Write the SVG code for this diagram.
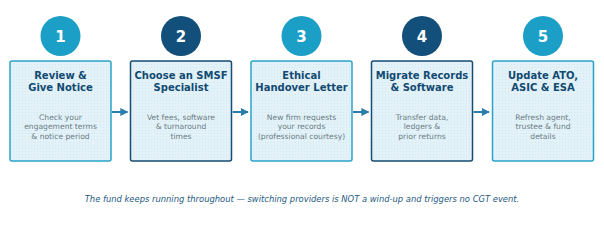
<svg xmlns="http://www.w3.org/2000/svg" width="604" height="225" viewBox="0 0 604 225">
<defs>
<pattern id="dots" width="3" height="3" patternUnits="userSpaceOnUse">
<rect width="3" height="3" fill="#e2f2f8"/>
<rect x="1" y="1" width="1" height="1" fill="#d0e7f0"/>
</pattern>
<marker id="ah" viewBox="0 0 10 10" refX="9" refY="5" markerWidth="4" markerHeight="4" orient="auto" markerUnits="strokeWidth">
<path d="M0,0 L10,5 L0,10 z" fill="#2b7ea8"/>
</marker>
</defs>
<style>
.box{fill:url(#dots);stroke-width:1.5}
.lb{stroke:#2ba3ca}
.db{stroke:#174c73}
.lc{fill:#1c9fc7}
.dc{fill:#124f7a}
.num{font-family:"DejaVu Sans",sans-serif;font-weight:bold;font-size:15px;fill:#fff;text-anchor:middle}
.t{font-family:"DejaVu Sans",sans-serif;font-weight:bold;font-size:10px;fill:#124a72;text-anchor:middle}
.d{font-family:"DejaVu Sans",sans-serif;font-size:7.6px;fill:#6e7d86;text-anchor:middle}
.foot{font-family:"DejaVu Sans",sans-serif;font-style:italic;font-size:8.4px;fill:#265a82;text-anchor:middle}
.con{stroke:#2b7ea8;stroke-width:2;fill:none}
</style>
<rect width="604" height="225" fill="#fff"/>
<g id="step1">
<circle class="lc" cx="60.5" cy="36" r="20"/>
<text class="num" x="60.5" y="41.5">1</text>
<rect class="box lb" x="10" y="61" width="101" height="100" rx="2"/>
<text class="t" x="60.5" y="78.5">Review &amp;</text>
<text class="t" x="60.5" y="90.5">Give Notice</text>
<text class="d" x="60.5" y="119.5">Check your</text>
<text class="d" x="60.5" y="129">engagement terms</text>
<text class="d" x="60.5" y="138.5">&amp; notice period</text>
</g>
<g id="step2">
<circle class="dc" cx="181" cy="36" r="20"/>
<text class="num" x="181" y="41.5">2</text>
<rect class="box db" x="130.5" y="61" width="101" height="100" rx="2"/>
<text class="t" x="181" y="78.5">Choose an SMSF</text>
<text class="t" x="181" y="90.5">Specialist</text>
<text class="d" x="181" y="119.5">Vet fees, software</text>
<text class="d" x="181" y="129">&amp; turnaround</text>
<text class="d" x="181" y="138.5">times</text>
</g>
<g id="step3">
<circle class="lc" cx="301.5" cy="36" r="20"/>
<text class="num" x="301.5" y="41.5">3</text>
<rect class="box lb" x="251" y="61" width="101" height="100" rx="2"/>
<text class="t" x="301.5" y="78.5">Ethical</text>
<text class="t" x="301.5" y="90.5">Handover Letter</text>
<text class="d" x="301.5" y="119.5">New firm requests</text>
<text class="d" x="301.5" y="129">your records</text>
<text class="d" x="301.5" y="138.5">(professional courtesy)</text>
</g>
<g id="step4">
<circle class="dc" cx="422" cy="36" r="20"/>
<text class="num" x="422" y="41.5">4</text>
<rect class="box db" x="371.5" y="61" width="101" height="100" rx="2"/>
<text class="t" x="422" y="78.5">Migrate Records</text>
<text class="t" x="422" y="90.5">&amp; Software</text>
<text class="d" x="422" y="119.5">Transfer data,</text>
<text class="d" x="422" y="129">ledgers &amp;</text>
<text class="d" x="422" y="138.5">prior returns</text>
</g>
<g id="step5">
<circle class="lc" cx="543" cy="36" r="20"/>
<text class="num" x="543" y="41.5">5</text>
<rect class="box lb" x="492.5" y="61" width="101" height="100" rx="2"/>
<text class="t" x="543" y="78.5">Update ATO,</text>
<text class="t" x="543" y="90.5">ASIC &amp; ESA</text>
<text class="d" x="543" y="119.5">Refresh agent,</text>
<text class="d" x="543" y="129">trustee &amp; fund</text>
<text class="d" x="543" y="138.5">details</text>
</g>
<g id="connectors">
<line class="con" x1="112" y1="112" x2="127.5" y2="112" marker-end="url(#ah)"/>
<line class="con" x1="232.5" y1="112" x2="248" y2="112" marker-end="url(#ah)"/>
<line class="con" x1="353" y1="112" x2="368.5" y2="112" marker-end="url(#ah)"/>
<line class="con" x1="473.5" y1="112" x2="489" y2="112" marker-end="url(#ah)"/>
</g>
<text class="foot" x="302" y="202">The fund keeps running throughout — switching providers is NOT a wind-up and triggers no CGT event.</text>
</svg>
